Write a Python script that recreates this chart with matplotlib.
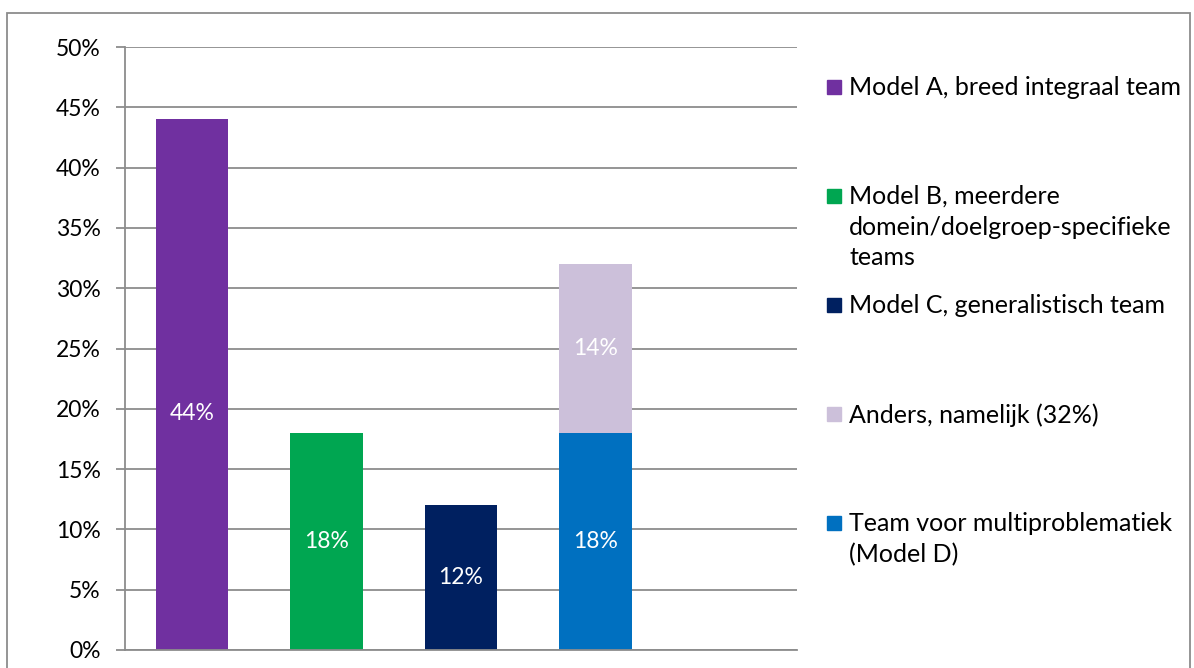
import matplotlib.pyplot as plt
from matplotlib.patches import Rectangle

# data
categories = ["Model A", "Model B", "Model C", "Anders", ""]
base_values = [44, 18, 12, 18, 0]
top_values = [0, 0, 0, 14, 0]
bar_colors = ["#7030A0", "#00A651", "#002060", "#0070C0", "#FFFFFF"]
top_color = "#CCC0DA"
label_y = [19.6, 9, 6, 9, 25]  # where excel put the labels

legend_labels = ["Model A, breed integraal team",
                 "Model B, meerdere\ndomein/doelgroep-specifieke\nteams",
                 "Model C, generalistisch team",
                 "Anders, namelijk (32%)",
                 "Team voor multiproblematiek\n(Model D)"]
legend_colors = ["#7030A0", "#00A651", "#002060", "#CCC0DA", "#0070C0"]

plt.rcParams['font.family'] = ['Lato', 'DejaVu Sans']
fig = plt.figure(figsize=(11.94, 6.68), dpi=100)
ax = fig.add_axes([125/1194, 1-650/668, 672/1194, 603/668])

x = list(range(len(categories)))
ax.bar(x, base_values, width=0.54, color=bar_colors, zorder=2)
ax.bar(x, top_values, width=0.54, bottom=base_values, color=top_color, zorder=2)

for i in range(4):
    ax.text(i, label_y[i], "%d%%" % base_values[i], color="white",
            ha="center", va="center", fontsize=16.5)
ax.text(3, base_values[3] + top_values[3]/2, "%d%%" % top_values[3],
        color="white", ha="center", va="center", fontsize=16.5)

ax.set_xlim(-0.5, 4.5)
ax.set_ylim(0, 50)
ax.set_yticks(range(0, 51, 5))
ax.set_yticklabels(["%d%%" % v for v in range(0, 51, 5)], fontsize=16.5)
ax.set_xticks([])
ax.yaxis.grid(True, color="#8C8C8C", lw=1.3, zorder=0)
ax.tick_params(axis='y', length=6.5, width=1.3, color="#8C8C8C", pad=11)
for s in ['top', 'right']:
    ax.spines[s].set_visible(False)
for s in ['left', 'bottom']:
    ax.spines[s].set_color("#8C8C8C")
    ax.spines[s].set_linewidth(1.3)

# legend drawn by hand so the rows sit where excel put them
for i, (lab, col) in enumerate(zip(legend_labels, legend_colors)):
    ytop = 87 + 109*i
    fig.add_artist(Rectangle((827/1194, 1-(ytop+7)/668), 14/1194, 14/668,
                             transform=fig.transFigure, color=col))
    fig.text(849/1194, 1-(ytop-11)/668, lab, fontsize=18, va="top",
             ha="left", linespacing=1.4)

# outer chart border
fig.add_artist(Rectangle((7/1194, -0.05), 1183/1194, 1.05-13/668,
                         transform=fig.transFigure, fill=False,
                         edgecolor="#8C8C8C", lw=1.3))

fig.savefig("out.png", dpi=100)
